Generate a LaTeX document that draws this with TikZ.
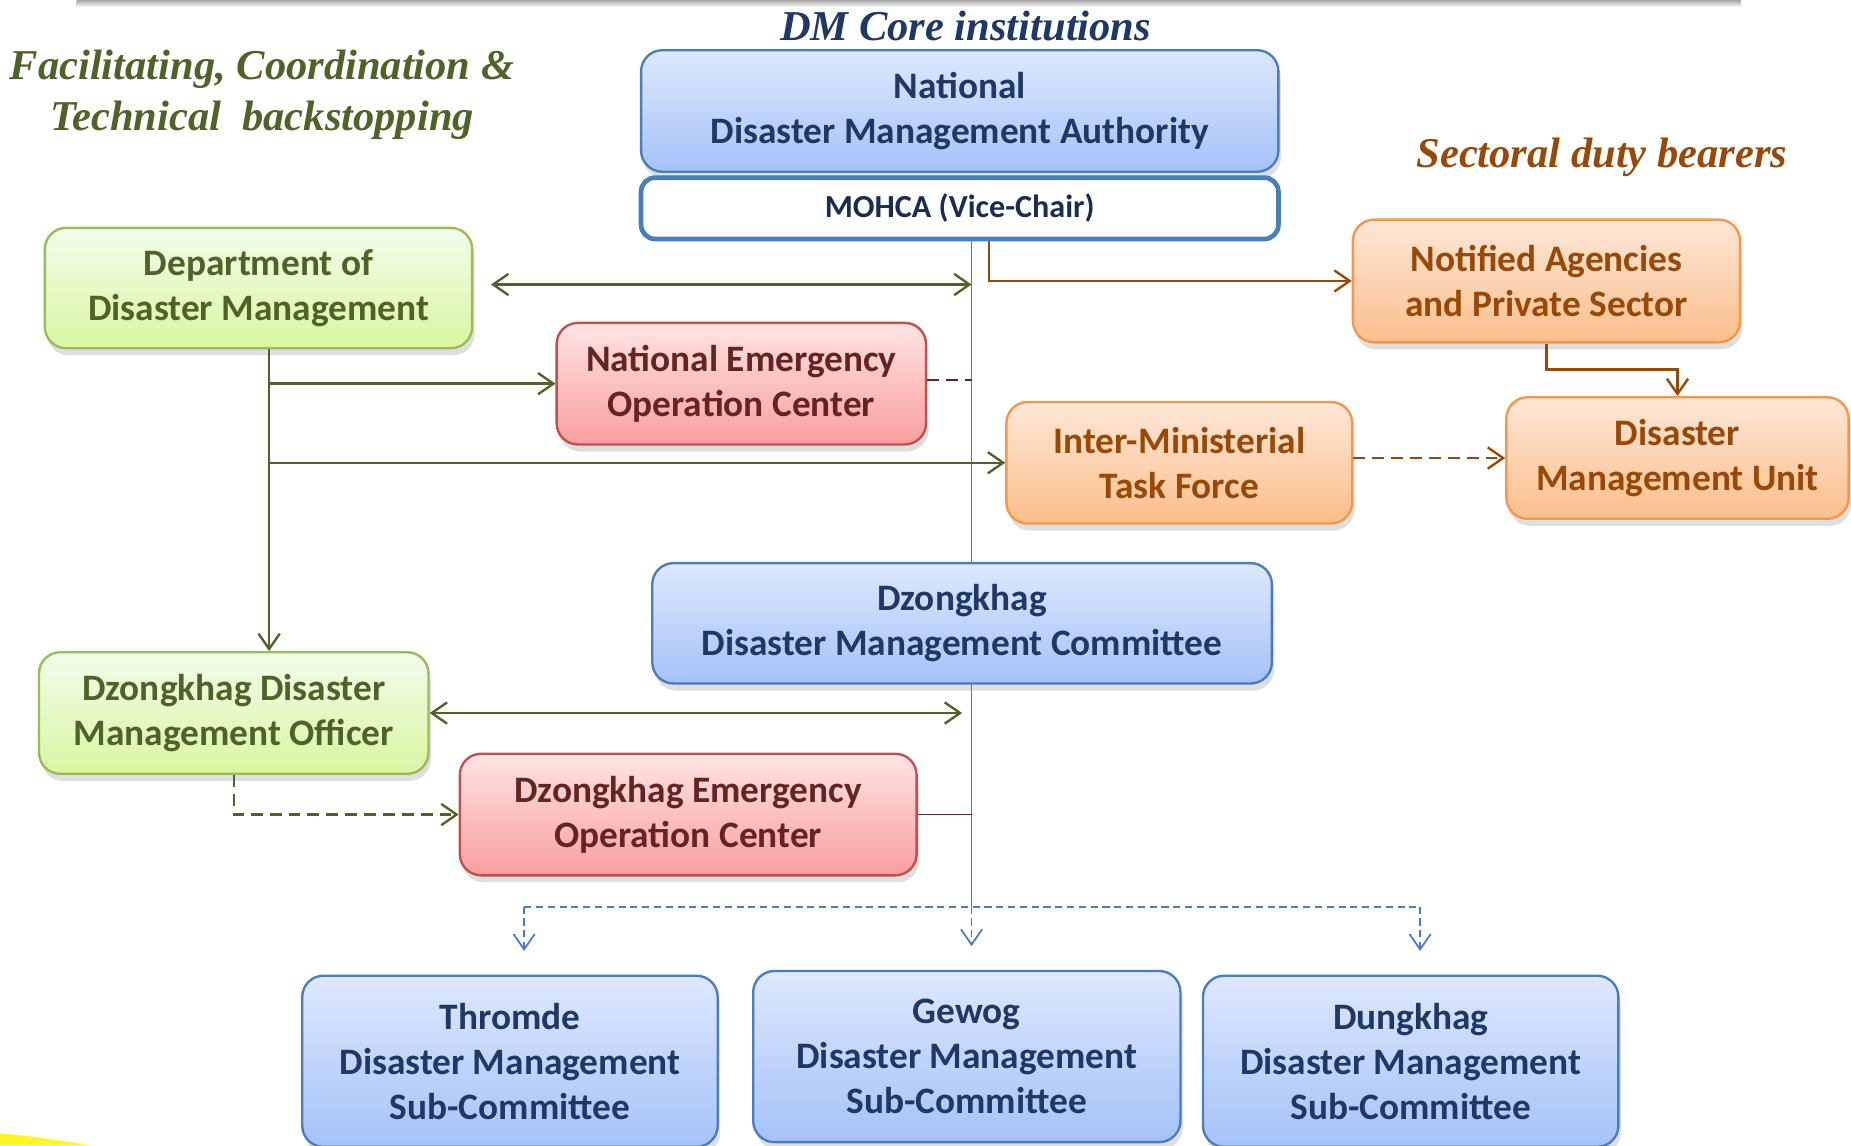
\documentclass[tikz,border=0pt]{standalone}
\usepackage{fontspec}
\setmainfont{Carlito}
\newfontfamily\titlefont{Liberation Serif}
\usetikzlibrary{arrows.meta,positioning,shadows,backgrounds}

\definecolor{coreline}{HTML}{4A7EBB}
\definecolor{coretop}{HTML}{DEE8FD}
\definecolor{corebot}{HTML}{A5C2F8}
\definecolor{corefont}{HTML}{1F3864}
\definecolor{techline}{HTML}{9BBB59}
\definecolor{techtop}{HTML}{F3FCEA}
\definecolor{techbot}{HTML}{D8F7A2}
\definecolor{techfont}{HTML}{4F6228}
\definecolor{eocline}{HTML}{C0504D}
\definecolor{eoctop}{HTML}{FFE4E4}
\definecolor{eocbot}{HTML}{FA9E9E}
\definecolor{eocfont}{HTML}{632523}
\definecolor{sectline}{HTML}{F79646}
\definecolor{secttop}{HTML}{FDE7D7}
\definecolor{sectbot}{HTML}{FBBF8C}
\definecolor{sectfont}{HTML}{984807}

\begin{document}
\begin{tikzpicture}[x=0.02cm,y=-0.02cm,
    >={Straight Barb[length=2.6mm,width=3.6mm]},
    box/.style={rounded corners=0.36cm,line width=0.04cm,align=center,inner sep=0pt,
      font=\fontsize{18}{21.6}\selectfont\bfseries,
      drop shadow={opacity=0.25,shadow xshift=0.04cm,shadow yshift=-0.12cm}},
    core/.style={box,draw=coreline,top color=coretop,bottom color=corebot,text=corefont},
    tech/.style={box,draw=techline,top color=techtop,bottom color=techbot,text=techfont},
    eoc/.style={box,draw=eocline,top color=eoctop,bottom color=eocbot,text=eocfont},
    sect/.style={box,draw=sectline,top color=secttop,bottom color=sectbot,text=sectfont},
    head/.style={font=\titlefont\fontsize{20.5}{24.5}\selectfont\bfseries\itshape},
    gline/.style={draw=techfont,line width=0.04cm},
    sline/.style={draw=sectfont,line width=0.04cm},
    rline/.style={draw=eocfont,line width=0.03cm},
    spine/.style={draw=coreline,line width=0.026cm},
    bdash/.style={draw=coreline,line width=0.03cm,dash pattern=on 0.12cm off 0.08cm},
    gap/.style={dash pattern=on 0.2cm off 0.12cm}]

  \path[use as bounding box] (0,0) rectangle (1568,970);
  \shade[top color=black!35,bottom color=white] (65,0) rectangle (1475,6);
  \fill[yellow!85] (0,960) .. controls (30,963) .. (75,970) -- (0,970) -- cycle;

  % headings
  \node[head,text=corefont] (coretitle) at (818,22) {DM Core institutions};
  \node[head,text=techfont,align=center] (techtitle) at (222,80) {Facilitating, Coordination \&\\Technical~ backstopping};
  \node[head,text=sectfont] (secttitle) at (1357,133) {Sectoral duty bearers};

  % national level
  \node[core,minimum width=10.8cm,minimum height=2.06cm] (ndma) at (813,94) {National\\Disaster Management Authority};
  \node[draw=coreline,fill=white,line width=0.08cm,rounded corners=0.24cm,
        minimum width=10.8cm,minimum height=1.04cm,inner sep=0pt,text=corefont!80!black,
        font=\fontsize{15.5}{18}\selectfont\bfseries] (mohca) [below=0.04cm of ndma] {MOHCA (Vice-Chair)};
  \node[tech,minimum width=7.24cm,minimum height=2.04cm] (ddm) at (219,244) {Department of\\Disaster Management};
  \node[eoc,minimum width=6.26cm,minimum height=2.06cm] (neoc) at (628,325) {National Emergency\\Operation Center};
  \node[sect,minimum width=6.56cm,minimum height=2.08cm] (naps) at (1310,238) {Notified Agencies\\and Private Sector};
  \node[sect,minimum width=5.86cm,minimum height=2.06cm] (imtf) at (999,392) {Inter-Ministerial\\Task Force};
  \node[sect,minimum width=5.8cm,minimum height=2.06cm] (dmu) at (1421,388) {Disaster\\Management Unit};

  % dzongkhag level
  \node[core,minimum width=10.5cm,minimum height=2.04cm] (ddmc) at (815,528) {Dzongkhag\\Disaster Management Committee};
  \node[tech,minimum width=6.6cm,minimum height=2.06cm] (ddmo) at (198,604) {Dzongkhag Disaster\\Management Officer};
  \node[eoc,minimum width=7.74cm,minimum height=2.06cm] (deoc) at (583,690) {Dzongkhag Emergency\\Operation Center};

  % sub-committees
  \node[core,minimum width=7.04cm,minimum height=2.9cm] (thromde) at (432,899) {Thromde\\Disaster Management\\Sub-Committee};
  \node[core,minimum width=7.24cm,minimum height=2.9cm] (gewog) at (819,895) {Gewog\\Disaster Management\\Sub-Committee};
  \node[core,minimum width=7.04cm,minimum height=2.9cm] (dungkhag) at (1195,899) {Dungkhag\\Disaster Management\\Sub-Committee};

  \coordinate (hub) at (823,768);
  \coordinate (tdrop) at (444,768);
  \coordinate (ddrop) at (1203,768);
  \coordinate (trunk) at ([xshift=0.18cm]ddm.south);

  \begin{scope}[on background layer]
    \draw[spine] (mohca.south -| hub) -- (hub);
  \end{scope}

  \draw[gline,<->,shorten <=0.3cm] ([yshift=0.06cm]ddm.east) -- ([yshift=0.06cm]ddm.east -| hub);
  \draw[sline,->] ([xshift=0.5cm]mohca.south) |- (naps.west);
  \draw[sline,->] (naps.south) -- ++(0,22) -| (dmu.north);
  \draw[gline,->] (trunk) -- (trunk |- ddmo.north);
  \draw[gline,->] (trunk |- neoc.west) -- (neoc.west);
  \draw[gline,->] (trunk |- imtf.west) -- (imtf.west);
  \draw[rline,gap] ([yshift=0.06cm]neoc.east) -- ([yshift=0.06cm]neoc.east -| hub);
  \draw[sline,gap,->] (imtf.east |- dmu.west) -- (dmu.west);
  \draw[gline,<->,shorten >=0.16cm] (ddmo.east) -- (ddmo.east -| hub);
  \draw[gline,gap,->] (ddmo.south) |- (deoc.west);
  \draw[rline] (deoc.east) -- (deoc.east -| hub);

  \draw[bdash] (tdrop) -- (ddrop);
  \foreach \src/\dst in {tdrop/thromde,hub/gewog,ddrop/dungkhag}
    \draw[bdash,->,shorten >=0.4cm] (\src) -- (\src |- \dst.north);
\end{tikzpicture}
\end{document}
